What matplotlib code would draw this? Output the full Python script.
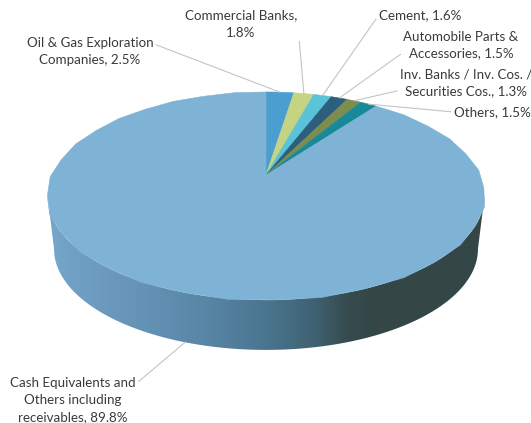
import numpy as np
import matplotlib
matplotlib.use('Agg')
import matplotlib.pyplot as plt
from matplotlib.patches import Polygon
from matplotlib.colors import LinearSegmentedColormap

# dados do grafico (percentuais)
rotulos = ['Oil & Gas Exploration\nCompanies, {}%',
           'Commercial Banks,\n{}%',
           'Cement, {}%',
           'Automobile Parts &\nAccessories, {}%',
           'Inv. Banks / Inv. Cos. /\nSecurities Cos., {}%',
           'Others, {}%',
           'Cash Equivalents and\nOthers including\nreceivables, {}%']
valores = [2.5, 1.8, 1.6, 1.5, 1.3, 1.5, 89.8]
cores = ['#4A9FD0', '#C4D482', '#5BC3D8', '#2D5E7B', '#7D8D4E', '#17899B', '#7FB3D5']

# posicao dos textos (pixels da imagem) e ponto de saida da linha no texto
pos_texto = [(90, 51), (241, 24), (420, 15), (461, 45), (466, 83), (492, 112), (73, 400)]
saida = [(1, 0.75), (1, 0.75), (0, 0.5), (0, 0.25), (0, 0.25), (0, 0.5), (1, 0.85)]

W, H = 531, 423
fig = plt.figure(figsize=(W / 100, H / 100), dpi=100)
ax = fig.add_axes([0, 0, 1, 1])

'''
Perspectiva simples para imitar a pizza 3D do Excel.
'''
cx, cy = 266, H - 175
A, B, k = 214, 99.8, 0.202
s, h = 0.97, 53.6


def projeta(X, Y, fundo=False):
    w = 1 + k * Y
    sx = A * X / w
    sy = B * Y / w
    if fundo:
        sx = sx * s
        sy = sy * s - h
    return cx + sx, cy + sy


# lateral (so a fatia de caixa aparece na frente)
t = np.linspace(np.pi + np.arcsin(k), 2 * np.pi - np.arcsin(k), 300)
tx, ty = projeta(np.cos(t), np.sin(t))
bx, by = projeta(np.cos(t), np.sin(t), fundo=True)
lado = np.column_stack([np.r_[tx, bx[::-1]], np.r_[ty, by[::-1]]])
lado_patch = Polygon(lado, closed=True, facecolor='none', edgecolor='none')
ax.add_patch(lado_patch)

grad_cmap = LinearSegmentedColormap.from_list('lado', [
    (0.0, '#78A8CC'), (0.04, '#72A2C6'), (0.35, '#5A87A8'), (0.5, '#4A7590'),
    (0.61, '#3F6272'), (0.69, '#364B4D'), (0.76, '#344646'), (1.0, '#344646')])
grad = np.linspace(0, 1, 256).reshape(1, -1)
im = ax.imshow(grad, extent=(tx.min(), tx.max(), by.min() - 2, ty.max()),
               aspect='auto', cmap=grad_cmap, origin='lower')
im.set_clip_path(lado_patch)

# topo: fatias do pie projetadas
fatias, _ = ax.pie(valores, startangle=90, counterclock=False, radius=1, center=(0, 0))
for fatia, cor in zip(fatias, cores):
    poligono = fatia.get_path().to_polygons()[0]
    px, py = projeta(poligono[:, 0], poligono[:, 1])
    ax.add_patch(Polygon(np.column_stack([px, py]), closed=True,
                         facecolor=cor, edgecolor=cor, linewidth=0.4))
    fatia.remove()

# rotulos com linhas de chamada
for i, fatia in enumerate(fatias):
    meio = np.radians((fatia.theta1 + fatia.theta2) / 2)
    ultimo = i == len(fatias) - 1
    ax_, ay_ = projeta(np.cos(meio), np.sin(meio), fundo=ultimo)
    texto = rotulos[i].format(valores[i])
    ax.annotate(texto, xy=(ax_, ay_), xytext=(pos_texto[i][0], H - pos_texto[i][1]),
                ha='center', va='center', fontsize=9.6, color='#3A3A3A',
                family=['Lato', 'DejaVu Sans'], linespacing=1.5,
                arrowprops=dict(arrowstyle='-', color='#C4C4C4', lw=0.8,
                                relpos=saida[i], shrinkA=0, shrinkB=0))

ax.set_xlim(0, W)
ax.set_ylim(0, H)
ax.set_aspect('auto')
ax.axis('off')

plt.savefig('out.png', dpi=100)
